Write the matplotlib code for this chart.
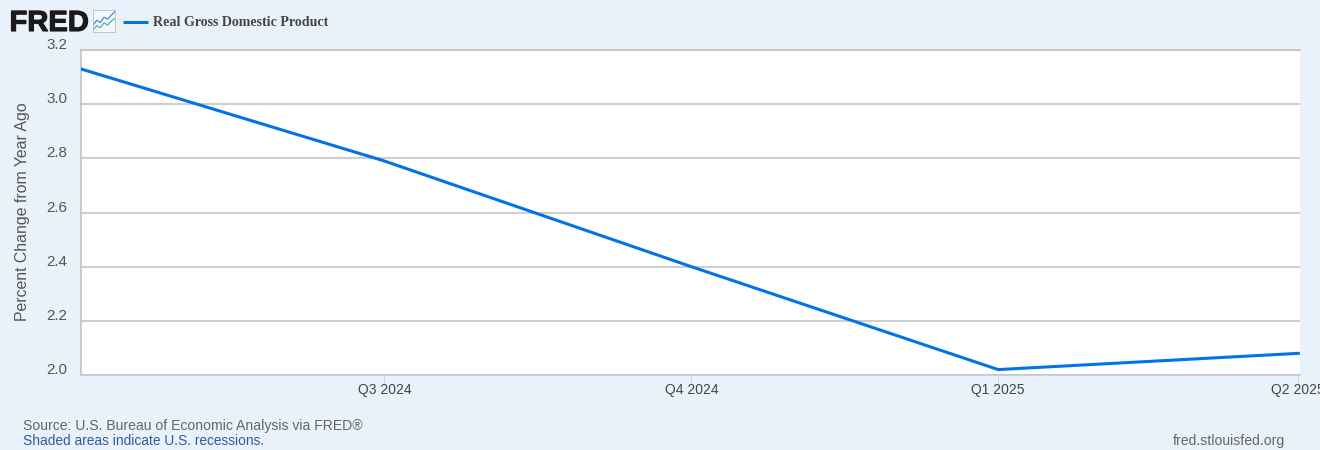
import matplotlib
matplotlib.use("Agg")
import matplotlib.pyplot as plt
import matplotlib.patheffects as pe
import matplotlib.transforms as mtrans
import pandas as pd

W, H = 1320, 450

# values
quarters = ["2024-04-01", "2024-07-01", "2024-10-01", "2025-01-01", "2025-04-01"]
gdp_change = [3.13, 2.79, 2.40, 2.02, 2.08]
y_ticks = [2.0, 2.2, 2.4, 2.6, 2.8, 3.0, 3.2]
x_ticks = ["2024-07-01", "2024-10-01", "2025-01-01", "2025-04-01"]
x_labels = ["Q3 2024", "Q4 2024", "Q1 2025", "Q2 2025"]

# small icon next to the logo
icon_x = [0, 1, 2, 3, 4, 5, 6]
icon_blue = [1.8, 3.2, 2.6, 4.0, 3.5, 4.6, 5.6]
icon_green = [0.5, 1.7, 1.2, 2.5, 1.9, 3.0, 3.7]

BG = "#e9f1fa"
BLUE = "#0073e6"
GRID = "#c0c0c0"
TXT = "#555555"

plt.rcParams["font.family"] = ["Liberation Sans", "DejaVu Sans"]

fig = plt.figure(figsize=(W / 100, H / 100), dpi=100, facecolor=BG)
ax = fig.add_axes([81 / W, 1 - 375 / H, (1300 - 81) / W, (375 - 50) / H])

dates = pd.to_datetime(quarters)
ax.plot(dates, gdp_change, color=BLUE, linewidth=2.2, solid_joinstyle="miter",
        solid_capstyle="projecting", zorder=3)

ax.set_xlim(pd.Timestamp("2024-04-01"), pd.Timestamp("2025-04-01 12:00"))
ax.set_ylim(2.0, 3.2)

ax.set_yticks(y_ticks)
ax.set_yticklabels(["%.1f" % v for v in y_ticks])
ax.set_xticks(pd.to_datetime(x_ticks))
ax.set_xticklabels(x_labels)
ax.grid(axis="y", color=GRID, linewidth=1.1)
ax.set_axisbelow(True)

ax.tick_params(axis="y", length=0, pad=10, labelsize=10.9, labelcolor=TXT)
ax.tick_params(axis="x", length=6, width=0.7, color="#ccd6eb", pad=0, labelsize=10, labelcolor="#444444")

# y labels sit above their gridlines
shift = mtrans.ScaledTranslation(0, 6.5 / 100, fig.dpi_scale_trans)
for lab in ax.get_yticklabels():
    lab.set_transform(lab.get_transform() + shift)

for name in ["top", "left"]:
    ax.spines[name].set_color(GRID)
    ax.spines[name].set_linewidth(1.1)
ax.spines["right"].set_visible(False)
ax.spines["bottom"].set_color("#bcc6d6")
ax.spines["bottom"].set_linewidth(1.1)

fig.text(23 / W, 1 - 212 / H, "Percent Change from Year Ago", rotation=90, ha="center", va="center",
         fontsize=11.4, color=TXT)

# header: logo, icon, legend
logo = fig.text(9.5 / W, 1 - 31 / H, "FRED", fontsize=21, fontweight="bold", color="#1a1a1a", va="baseline")
logo.set_path_effects([pe.withStroke(linewidth=0.8, foreground="#1a1a1a")])
icon = fig.add_axes([93 / W, 1 - 32 / H, 22 / W, 22 / H], facecolor="#f4f8fc")
icon.plot(icon_x, icon_blue, color="#3d8fd9", linewidth=0.9)
icon.plot(icon_x, icon_green, color="#4fb8a0", linewidth=0.9)
icon.set_xlim(0, 6)
icon.set_ylim(0, 6)
icon.set_xticks([])
icon.set_yticks([])
for s in icon.spines.values():
    s.set_color("#c4c4c4")
    s.set_linewidth(0.7)

fig.add_artist(plt.Line2D([123 / W, 148 / W], [1 - 21.5 / H, 1 - 21.5 / H], color=BLUE, linewidth=2.2,
                          solid_capstyle="butt"))
fig.text(153 / W, 1 - 22 / H, "Real Gross Domestic Product", family=["Liberation Serif", "DejaVu Serif"],
         fontweight="bold", fontsize=10.05, color="#444444", va="center")

# footer
fig.text(23 / W, 1 - 430 / H, "Source: U.S. Bureau of Economic Analysis via FRED®", fontsize=10.05, color="#666666")
fig.text(23 / W, 1 - 445 / H, "Shaded areas indicate U.S. recessions.", fontsize=9.95, color="#335a9c")
fig.text(1173 / W, 1 - 445 / H, "fred.stlouisfed.org", fontsize=10.1, color="#666666")

fig.savefig("out.png", dpi=100, facecolor=BG)
